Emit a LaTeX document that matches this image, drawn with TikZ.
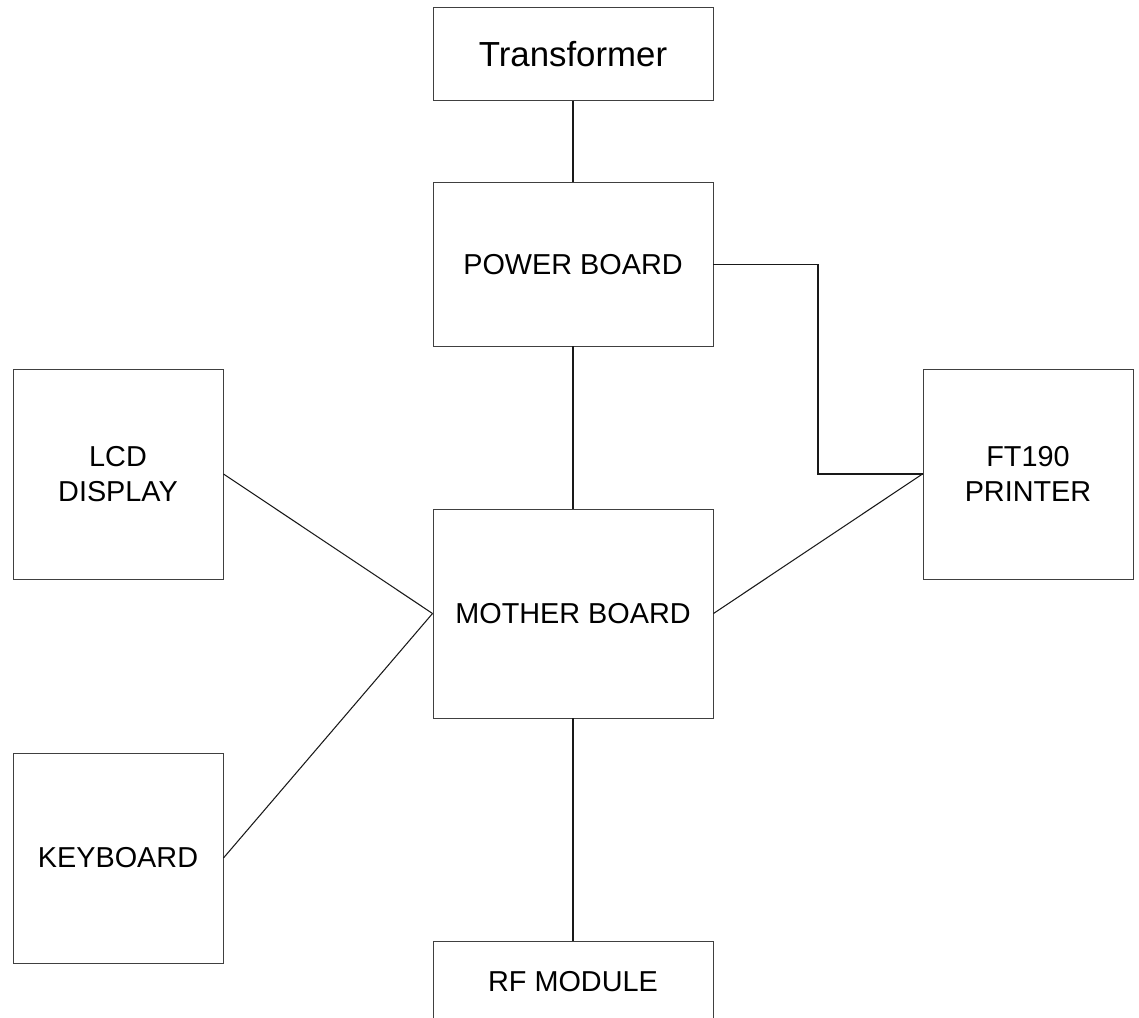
\documentclass[tikz,border=0pt]{standalone}
\usepackage{fontspec}
\setmainfont{Liberation Sans}
\begin{document}
\begin{tikzpicture}[
    unit/.style={draw=black!75, line width=0.55pt, inner sep=0pt, align=center,
        font=\fontsize{16.4}{19.5}\selectfont},
    wire/.style={draw=black!90, line width=0.6pt}
  ]
    % page frame, the RF box runs off the bottom edge
    \clip (0,0) rectangle (22.78,20.36);

    % blocks
    \node[unit, minimum width=5.6cm, minimum height=1.86cm,
        font=\fontsize{19.8}{23}\selectfont] (trans) at (11.46,19.27) {Transformer};
    \node[unit, minimum width=5.6cm, minimum height=3.26cm] (power) at (11.46,15.07) {POWER BOARD};
    \node[unit, minimum width=4.2cm, minimum height=4.2cm] (lcd) at (2.36,10.88) {LCD\\DISPLAY};
    \node[unit, minimum width=4.2cm, minimum height=4.2cm] (printer) at (20.56,10.88) {FT190\\PRINTER};
    \node[unit, minimum width=5.6cm, minimum height=4.18cm] (mother) at (11.46,8.09) {MOTHER BOARD};
    \node[unit, minimum width=4.2cm, minimum height=4.2cm] (kbd) at (2.36,3.2) {KEYBOARD};
    \node[unit, minimum width=5.6cm, minimum height=1.62cm] (rf) at (11.46,0.73) {RF MODULE};

    % connections
    \coordinate (bend) at (16.36,15.07);
    \draw[wire] (trans.south) -- (power.north);
    \draw[wire] (power.east) -- (bend) |- (printer.west);
    \draw[wire] (power.south) -- (mother.north);
    \draw[wire] (lcd.east) -- (mother.west);
    \draw[wire] (kbd.east) -- (mother.west);
    \draw[wire] (printer.west) -- (mother.east);
    \draw[wire, line width=1.1pt] (mother.south) -- (rf.north);
\end{tikzpicture}
\end{document}
